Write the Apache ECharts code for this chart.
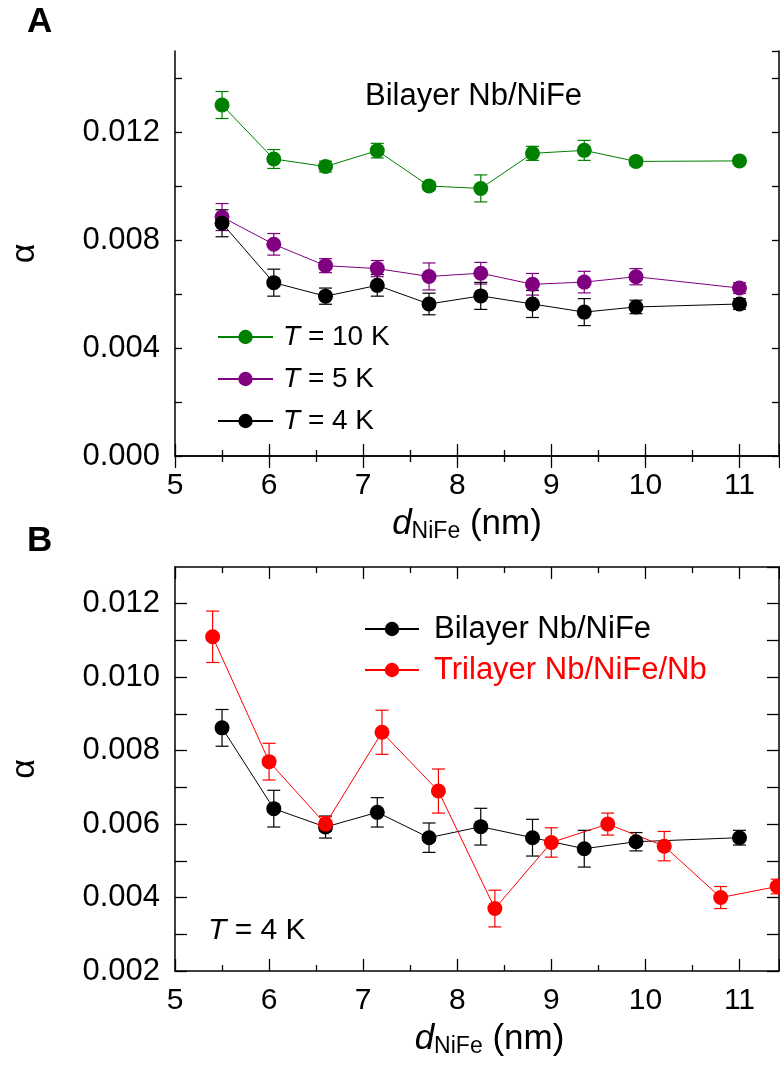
<!DOCTYPE html>
<html>
<head>
<meta charset="utf-8">
<script src="https://cdn.jsdelivr.net/npm/echarts@6/dist/echarts.min.js"></script>
<style>
  html, body { margin: 0; padding: 0; background: #fff; }
  #chart { width: 780px; height: 1068px; }
</style>
</head>
<body>
<div id="chart"></div>
<script>
// Gilbert damping alpha versus NiFe thickness (nm)
// Panel A: bilayer Nb/NiFe at three temperatures
const xA = [5.5, 6.05, 6.6, 7.15, 7.7, 8.25, 8.8, 9.35, 9.9, 11.0];
const alpha10K = [0.0130, 0.0110, 0.01072, 0.01131, 0.0100, 0.00991, 0.01121, 0.01132, 0.01091, 0.01093];
const err10K   = [0.0005, 0.00035, 0.0002, 0.00027, 0.00015, 0.0005, 0.00026, 0.00037, 0.00015, 0.0001];
const alpha5K  = [0.00885, 0.00784, 0.00705, 0.00694, 0.00665, 0.00677, 0.00636, 0.00644, 0.00664, 0.00622];
const err5K    = [0.0005, 0.0004, 0.00026, 0.0003, 0.0005, 0.0004, 0.0004, 0.0004, 0.0003, 0.0002];
const alpha4K  = [0.00862, 0.00642, 0.00592, 0.00632, 0.00563, 0.00593, 0.00563, 0.00533, 0.00552, 0.00563];
const err4K    = [0.0005, 0.0005, 0.0003, 0.0004, 0.0004, 0.0005, 0.0005, 0.0005, 0.00025, 0.0002];

// Panel B: bilayer vs trilayer at 4 K
const xTri = [5.4, 6.0, 6.6, 7.2, 7.8, 8.4, 9.0, 9.6, 10.2, 10.8, 11.4];
const alphaTri = [0.0111, 0.0077, 0.0060, 0.0085, 0.0069, 0.0037, 0.0055, 0.0060, 0.0054, 0.0040, 0.0043];
const errTri   = [0.0007, 0.0005, 0.0002, 0.0006, 0.0006, 0.0005, 0.0004, 0.0003, 0.0004, 0.0003, 0.0002];

// Axis tick labels
const xTickLabels = [5, 6, 7, 8, 9, 10, 11];
const yTickLabelsA = ['0.000', '0.004', '0.008', '0.012'];
const yTickLabelsB = ['0.002', '0.004', '0.006', '0.008', '0.010', '0.012'];

const FONT = '"Liberation Sans", Arial, sans-serif';
const AXIS_LINE = { show: true, lineStyle: { color: '#000', width: 1.5 } };

function pts(xs, ys) { return xs.map((x, i) => [x, ys[i]]); }
function errPts(xs, ys, es) { return xs.map((x, i) => [x, ys[i], es[i]]); }

function xAxes(gridIndex, position, showLabels, majorLen, namePad) {
  return {
    type: 'value', gridIndex, position, min: 5, max: 11.42, interval: 1,
    axisLine: AXIS_LINE,
    axisTick: { show: true, inside: true, length: majorLen, lineStyle: { color: '#000', width: 1.3 } },
    minorTick: { show: true, splitNumber: 2, length: majorLen / 2, lineStyle: { color: '#000', width: 1.3 } },
    splitLine: { show: false },
    axisLabel: {
      show: showLabels, margin: 15, fontSize: 30, fontFamily: FONT, color: '#000',
      showMaxLabel: false,
      formatter: v => (xTickLabels.indexOf(Math.round(v * 100) / 100) >= 0 ? String(Math.round(v)) : '')
    },
    name: showLabels ? '{d|d}{s|NiFe}{n| (nm)}' : '',
    nameLocation: 'middle', nameGap: 50,
    nameTextStyle: {
      padding: namePad || [0, 0, 0, 0],
      rich: {
        d: { fontSize: 35, fontStyle: 'italic', fontFamily: FONT, color: '#000' },
        s: { fontSize: 23, fontFamily: FONT, color: '#000', padding: [14, 0, 0, 0] },
        n: { fontSize: 35, fontFamily: FONT, color: '#000' }
      }
    }
  };
}

function yAxes(gridIndex, position, min, max, interval, labels, tickLen) {
  const show = position === 'left';
  return {
    type: 'value', gridIndex, position, min, max, interval,
    axisLine: AXIS_LINE,
    axisTick: { show: true, inside: true, length: tickLen, lineStyle: { color: '#000', width: 1.3 } },
    splitLine: { show: false },
    axisLabel: {
      show, margin: 15, fontSize: 31, fontFamily: FONT, color: '#000',
      showMaxLabel: false,
      formatter: v => { const s = v.toFixed(3); return labels.indexOf(s) >= 0 ? s : ''; }
    },
    name: show ? 'α' : '',
    nameLocation: 'middle', nameGap: 133,
    nameTextStyle: { fontSize: 34, fontFamily: FONT, color: '#000' }
  };
}

function lineSeries(name, data, color, xi, yi) {
  return {
    name, type: 'line', data, xAxisIndex: xi, yAxisIndex: yi,
    symbol: 'circle', symbolSize: 15, clip: false,
    itemStyle: { color },
    lineStyle: { color, width: 1 },
    z: 5
  };
}

function errSeries(data, color, xi, yi) {
  return {
    type: 'custom', xAxisIndex: xi, yAxisIndex: yi, data, z: 3, silent: true,
    renderItem: (params, api) => {
      const x = api.value(0), y = api.value(1), e = api.value(2);
      const top = api.coord([x, y + e]);
      const bot = api.coord([x, y - e]);
      const half = 6.5;
      const st = { stroke: color, lineWidth: 1.2 };
      return {
        type: 'group',
        children: [
          { type: 'line', shape: { x1: top[0], y1: top[1], x2: bot[0], y2: bot[1] }, style: st },
          { type: 'line', shape: { x1: top[0] - half, y1: top[1], x2: top[0] + half, y2: top[1] }, style: st },
          { type: 'line', shape: { x1: bot[0] - half, y1: bot[1], x2: bot[0] + half, y2: bot[1] }, style: st }
        ]
      };
    }
  };
}

const GREEN = '#008000', PURPLE = '#800080', BLACK = '#000000', RED = '#ff0000';

const option = {
  animation: false,
  backgroundColor: '#fff',
  textStyle: { fontFamily: FONT },
  grid: [
    { left: 172, top: 51, right: 1, height: 405 },
    { left: 172, top: 567, right: 1, height: 404 }
  ],
  xAxis: [
    xAxes(0, 'bottom', true, 12, [0, 20, 0, 0]),
    xAxes(0, 'top', false, 12),
    xAxes(1, 'bottom', true, 12, [0, 0, 0, 25]),
    xAxes(1, 'top', false, 12)
  ],
  yAxis: [
    yAxes(0, 'left', 0, 0.015, 0.002, yTickLabelsA, 7),
    yAxes(0, 'right', 0, 0.015, 0.002, yTickLabelsA, 7),
    yAxes(1, 'left', 0.002, 0.013, 0.001, yTickLabelsB, 12),
    yAxes(1, 'right', 0.002, 0.013, 0.001, yTickLabelsB, 12)
  ],
  title: [
    { text: 'A', left: 27, top: 5, padding: 0, textStyle: { fontSize: 35, fontWeight: 'bold', fontFamily: FONT, color: '#000' } },
    { text: 'B', left: 27, top: 524, padding: 0, textStyle: { fontSize: 35, fontWeight: 'bold', fontFamily: FONT, color: '#000' } },
    { text: 'Bilayer Nb/NiFe', left: 365, top: 81, padding: 0, textStyle: { fontSize: 31, fontWeight: 'normal', fontFamily: FONT, color: '#000' } },
    {
      text: '{i|T} = 4 K', left: 208, top: 916, padding: 0,
      textStyle: {
        fontSize: 30, fontWeight: 'normal', fontFamily: FONT, color: '#000',
        rich: { i: { fontSize: 30, fontStyle: 'italic', fontFamily: FONT, color: '#000' } }
      }
    }
  ],
  legend: [
    {
      data: ['T = 10 K', 'T = 5 K', 'T = 4 K'],
      orient: 'vertical', left: 217, top: 322, padding: 0,
      itemWidth: 55, itemHeight: 18, itemGap: 12,
      formatter: n => n.replace('T', '{i|T}'),
      textStyle: {
        fontSize: 28, fontFamily: FONT, color: '#000', lineHeight: 30, padding: [0, 0, 0, 5],
        rich: { i: { fontSize: 28, fontStyle: 'italic', fontFamily: FONT, color: '#000', lineHeight: 30 } }
      }
    },
    {
      data: [
        { name: 'Bilayer Nb/NiFe', textStyle: { color: '#000' } },
        { name: 'Trilayer Nb/NiFe/Nb', textStyle: { color: RED } }
      ],
      orient: 'vertical', left: 364, top: 613, padding: 0,
      itemWidth: 54, itemHeight: 18, itemGap: 9,
      textStyle: { fontSize: 31, fontFamily: FONT, lineHeight: 32, padding: [0, 0, 0, 10] }
    }
  ],
  series: [
    errSeries(errPts(xA, alpha10K, err10K), GREEN, 0, 0),
    errSeries(errPts(xA, alpha5K, err5K), PURPLE, 0, 0),
    errSeries(errPts(xA, alpha4K, err4K), BLACK, 0, 0),
    lineSeries('T = 10 K', pts(xA, alpha10K), GREEN, 0, 0),
    lineSeries('T = 5 K', pts(xA, alpha5K), PURPLE, 0, 0),
    lineSeries('T = 4 K', pts(xA, alpha4K), BLACK, 0, 0),
    errSeries(errPts(xA, alpha4K, err4K), BLACK, 2, 2),
    errSeries(errPts(xTri, alphaTri, errTri), RED, 2, 2),
    lineSeries('Bilayer Nb/NiFe', pts(xA, alpha4K), BLACK, 2, 2),
    lineSeries('Trilayer Nb/NiFe/Nb', pts(xTri, alphaTri), RED, 2, 2)
  ]
};

const chart = echarts.init(document.getElementById('chart'), null, { renderer: 'canvas' });
chart.setOption(option);
</script>
</body>
</html>
